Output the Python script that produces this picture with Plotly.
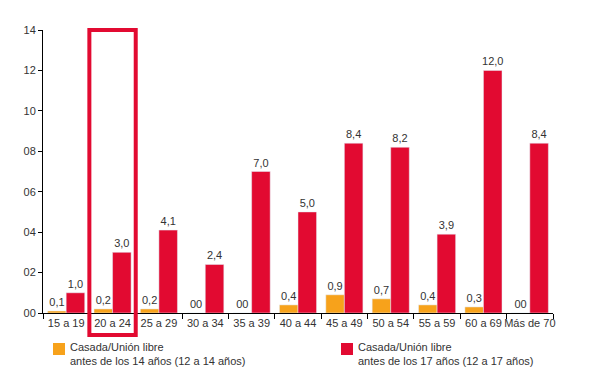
import plotly.graph_objects as go

categories = ["15 a 19", "20 a 24", "25 a 29", "30 a 34", "35 a 39", "40 a 44",
              "45 a 49", "50 a 54", "55 a 59", "60 a 69", "Más de 70"]
antes_14 = [0.1, 0.2, 0.2, 0.0, 0.0, 0.4, 0.9, 0.7, 0.4, 0.3, 0.0]
antes_17 = [1.0, 3.0, 4.1, 2.4, 7.0, 5.0, 8.4, 8.2, 3.9, 12.0, 8.4]
y_ticks = [0, 2, 4, 6, 8, 10, 12, 14]
y_tick_labels = ["00", "02", "04", "06", "08", "10", "12", "14"]
name_14 = "Casada/Unión libre<br>antes de los 14 años (12 a 14 años)"
name_17 = "Casada/Unión libre<br>antes de los 17 años (12 a 17 años)"

ORANGE = "#f7a21b"
RED = "#e20a31"
TXT = "#333333"
FONT = "Liberation Sans, Arial, sans-serif"

# page body adds an 8px offset; the figure is sized to fit the window
OFF = 8
L, R, T, B = 43, 553, 30, 313  # plot area edges in the window


def fmt(v):
    return "00" if v == 0 else f"{v:.1f}".replace(".", ",")


def px(xw):
    return (xw - L) / (R - L)


def py(yw):
    return (B - yw) / (B - T)


fig = go.Figure()
fig.add_trace(go.Bar(
    x=categories, y=antes_14, name=name_14, marker_color=ORANGE,
    text=[fmt(v) for v in antes_14], textposition="outside",
    textfont=dict(size=11, color=TXT, family=FONT), constraintext="none",
    cliponaxis=False, showlegend=False,
))
fig.add_trace(go.Bar(
    x=categories, y=antes_17, name=name_17, marker_color=RED,
    text=[fmt(v) for v in antes_17], textposition="outside",
    textfont=dict(size=11, color=TXT, family=FONT), constraintext="none",
    cliponaxis=False, showlegend=False,
))

# highlight box around "20 a 24"
fig.add_shape(type="rect", xref="x", yref="paper",
              x0=0.5, x1=1.5, y0=py(335), y1=1.0,
              line=dict(color=RED, width=4), fillcolor="rgba(0,0,0,0)")

# custom legend (square + two-line label) below the chart
for color, label, sx in [(ORANGE, name_14, 53), (RED, name_17, 341)]:
    fig.add_shape(type="rect", xref="paper", yref="paper",
                  x0=px(sx), x1=px(sx + 12),
                  y0=py(355), y1=py(343),
                  line=dict(width=0), fillcolor=color)
    fig.add_annotation(xref="paper", yref="paper",
                       x=px(sx + 15), y=py(339),
                       xanchor="left", yanchor="top", align="left",
                       text=label, showarrow=False,
                       font=dict(size=11, color=TXT, family=FONT))

W, H = 600 - OFF, 391 - OFF
fig.update_layout(
    width=W, height=H,
    margin=dict(l=L - OFF, r=W - (R - OFF), t=T - OFF, b=H - (B - OFF)),
    plot_bgcolor="white", paper_bgcolor="white",
    barmode="group", bargap=0.2, bargroupgap=0.0,
    font=dict(family=FONT, size=11, color=TXT),
    showlegend=False,
    xaxis=dict(showline=True, linecolor="black", linewidth=1,
               ticks="outside", tickson="boundaries", ticklen=5,
               tickcolor="black", showgrid=False, tickangle=0,
               automargin=False,
               tickfont=dict(size=11, color=TXT)),
    yaxis=dict(range=[0, 14], tickvals=y_ticks, ticktext=y_tick_labels,
               showline=True, linecolor="black", linewidth=1,
               ticks="outside", ticklen=4, tickcolor="black",
               showgrid=False, zeroline=False, automargin=False,
               tickfont=dict(size=11, color=TXT)),
)

fig.write_html("out.html")
